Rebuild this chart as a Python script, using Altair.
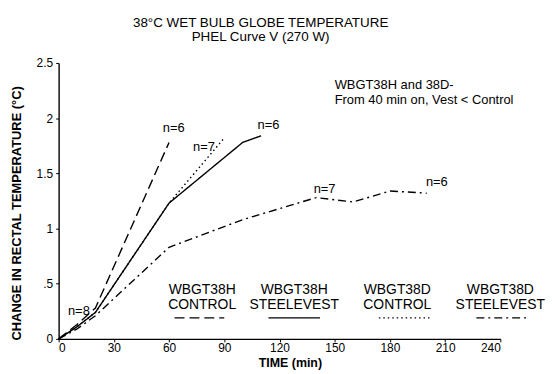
import altair as alt
import pandas as pd

# ---- data ----
t_38h_control = [0, 10, 20, 60]
v_38h_control = [0, 0.13, 0.28, 1.78]

t_38h_vest = [0, 10, 20, 60, 100, 110]
v_38h_vest = [0, 0.11, 0.24, 1.23, 1.78, 1.84]

t_38d_control = [0, 10, 20, 60, 90]
v_38d_control = [0, 0.11, 0.24, 1.23, 1.82]

t_38d_vest = [0, 10, 20, 60, 100, 140, 160, 180, 200]
v_38d_vest = [0, 0.09, 0.21, 0.83, 1.08, 1.28, 1.24, 1.34, 1.32]

series_names = ["38H control", "38H vest", "38D control", "38D vest"]
dash_styles = [[10, 5], [1, 0], [1.5, 3], [8, 4, 2, 4]]

# n= annotations
ann_text = ["n=8", "n=6", "n=7", "n=6", "n=7", "n=6"]
ann_t = [11, 62.5, 79, 114, 144.5, 205.5]
ann_v = [0.25, 1.91, 1.74, 1.94, 1.36, 1.42]

# legend (drawn inside the plot)
leg_line1 = ["WBGT38H", "WBGT38H", "WBGT38D", "WBGT38D"]
leg_line2 = ["CONTROL", "STEELEVEST", "CONTROL", "STEELEVEST"]
leg_center = [78, 128, 184, 240]
leg_x1 = [63, 114, 174, 227]
leg_x2 = [90, 142, 202, 256]
leg_text_v1 = [0.44, 0.44, 0.44, 0.44]
leg_text_v2 = [0.305, 0.305, 0.305, 0.305]
leg_line_v = [0.19, 0.19, 0.19, 0.19]

note_lines = ["WBGT38H and 38D-", "From 40 min on, Vest < Control"]
note_t = [150, 150]
note_v = [2.30, 2.16]

x_ticks = [0, 30, 60, 90, 120, 150, 180, 210, 240]
y_ticks = [0, 0.5, 1, 1.5, 2, 2.5]

FONT = "Liberation Sans"

rows = []
for name, ts, vs in [
    (series_names[0], t_38h_control, v_38h_control),
    (series_names[1], t_38h_vest, v_38h_vest),
    (series_names[2], t_38d_control, v_38d_control),
    (series_names[3], t_38d_vest, v_38d_vest),
]:
    for t, v in zip(ts, vs):
        rows.append({"series": name, "t": t, "v": v})
df = pd.DataFrame(rows)

dash_scale = alt.Scale(domain=series_names, range=dash_styles)

x_enc = alt.X(
    "t:Q",
    scale=alt.Scale(domain=[0, 240], nice=False),
    axis=alt.Axis(
        values=x_ticks,
        title="TIME (min)",
        titleX=233,
        titleY=24,
        titleBaseline="middle",
        titleAlign="center",
        titleFontSize=12.5,
    ),
)
y_enc = alt.Y(
    "v:Q",
    scale=alt.Scale(domain=[0, 2.5], nice=False),
    axis=alt.Axis(
        values=y_ticks,
        title="CHANGE IN RECTAL TEMPERATURE (°C)",
        labelExpr="datum.value == 0.5 ? '.5' : format(datum.value, '~g')",
        titleAngle=-90,
        titleX=-42,
        titleY=151,
        titleAlign="center",
        titleBaseline="middle",
        titleFontSize=13,
    ),
)

lines = alt.Chart(df).mark_line(color="black", strokeWidth=1.4).encode(
    x=x_enc,
    y=y_enc,
    strokeDash=alt.StrokeDash("series:N", scale=dash_scale, legend=None),
    detail="series:N",
)

ann_df = pd.DataFrame({"text": ann_text, "t": ann_t, "v": ann_v})
ann = alt.Chart(ann_df).mark_text(
    font=FONT, fontSize=13, color="black", baseline="middle", align="center"
).encode(x="t:Q", y="v:Q", text="text:N")

leg_df = pd.DataFrame(
    {
        "series": series_names,
        "l1": leg_line1,
        "l2": leg_line2,
        "c": leg_center,
        "x1": leg_x1,
        "x2": leg_x2,
        "v1": leg_text_v1,
        "v2": leg_text_v2,
        "vl": leg_line_v,
    }
)
leg_t1 = alt.Chart(leg_df).mark_text(
    font=FONT, fontSize=14, color="black", baseline="middle", align="center"
).encode(x="c:Q", y="v1:Q", text="l1:N")
leg_t2 = alt.Chart(leg_df).mark_text(
    font=FONT, fontSize=14, color="black", baseline="middle", align="center"
).encode(x="c:Q", y="v2:Q", text="l2:N")
leg_lines = alt.Chart(leg_df).mark_rule(color="black", strokeWidth=1.4).encode(
    x="x1:Q",
    x2="x2:Q",
    y="vl:Q",
    strokeDash=alt.StrokeDash("series:N", scale=dash_scale, legend=None),
)

note_df = pd.DataFrame({"text": note_lines, "t": note_t, "v": note_v})
note = alt.Chart(note_df).mark_text(
    font=FONT, fontSize=13, color="black", baseline="middle", align="left"
).encode(x="t:Q", y="v:Q", text="text:N")

chart = (
    alt.layer(lines, ann, leg_t1, leg_t2, leg_lines, note)
    .properties(
        width=445,
        height=278,
        autosize=alt.AutoSizeParams(type="none"),
        padding={"left": 51, "top": 54, "right": 46, "bottom": 30},
        title=alt.TitleParams(
            text=["38°C WET BULB GLOBE TEMPERATURE", "PHEL Curve V (270 W)"],
            font=FONT,
            fontSize=13.5,
            fontWeight="normal",
            color="black",
            anchor="middle",
            dx=-19,
            offset=14,
            lineHeight=14,
        ),
    )
    .configure_view(stroke=None)
    .configure_axis(
        grid=False,
        domainColor="black",
        domainWidth=1.4,
        tickColor="black",
        tickSize=3,
        labelFont=FONT,
        labelFontSize=12,
        labelColor="black",
        titleFont=FONT,
        titleFontWeight="bold",
        titleColor="black",
    )
    .configure_axisY(labelPadding=3)
    .configure_axisX(labelPadding=1)
)

chart.save("out.html", embed_options={"renderer": "svg", "actions": False})
